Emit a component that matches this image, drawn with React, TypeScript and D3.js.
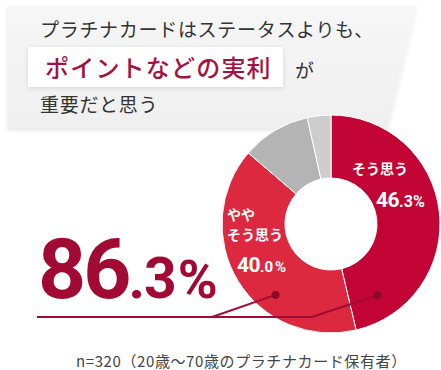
import { useEffect, useRef } from 'react'
import * as d3 from 'd3'

// answer shares (%), clockwise from 12 o'clock
const categories = ['そう思う', 'ややそう思う', 'あまり思わない', '思わない']
const shares = [46.3, 40.0, 10.2, 3.5]
const sliceColors = ['#c20535', '#dc2940', '#b4b4b4', '#cdcdcd']
const totalLabel = ['86', '.3', '%']
const titleLines = ['プラチナカードはステータスよりも、', 'ポイントなどの実利', 'が', '重要だと思う']
const footnote = 'n=320（20歳〜70歳のプラチナカード保有者）'

const W = 441
const H = 370
const JP = '"Noto Sans CJK JP", "Noto Sans", sans-serif'
const NUM = 'Roboto, "DejaVu Sans", sans-serif'
const DARK = '#a10a32'

export default function App() {
  const svgRef = useRef<SVGSVGElement>(null)

  useEffect(() => {
    const svg = d3.select(svgRef.current)
    svg.selectAll('*').remove()

    const defs = svg.append('defs')
    const shadow = defs.append('filter').attr('id', 'soft').attr('x', '-10%').attr('y', '-10%')
      .attr('width', '120%').attr('height', '130%')
    shadow.append('feDropShadow').attr('dx', 0).attr('dy', 1).attr('stdDeviation', 2)
      .attr('flood-color', '#000').attr('flood-opacity', 0.12)
    const grad = defs.append('linearGradient').attr('id', 'panel').attr('x1', 0).attr('y1', 0).attr('x2', 0).attr('y2', 1)
    grad.append('stop').attr('offset', '0%').attr('stop-color', '#f6f6f6')
    grad.append('stop').attr('offset', '100%').attr('stop-color', '#efefef')

    // title panel (slanted right edge)
    svg.append('path')
      .attr('d', 'M8,7 L416,7 L387,129 L8,129 Z')
      .attr('fill', 'url(#panel)')
      .attr('filter', 'url(#soft)')

    svg.append('text')
      .attr('x', 40).attr('y', 37)
      .attr('font-family', JP).attr('font-size', 19).attr('letter-spacing', 0.7).attr('fill', '#333')
      .text(titleLines[0])

    svg.append('rect')
      .attr('x', 28).attr('y', 47).attr('width', 255).attr('height', 40)
      .attr('fill', '#fff').attr('filter', 'url(#soft)')
    svg.append('text')
      .attr('x', 45).attr('y', 77)
      .attr('font-family', JP).attr('font-size', 24).attr('font-weight', 500)
      .attr('letter-spacing', 1.2).attr('fill', '#a4123f')
      .text(titleLines[1])
    svg.append('text')
      .attr('x', 295).attr('y', 78)
      .attr('font-family', JP).attr('font-size', 19).attr('fill', '#333')
      .text(titleLines[2])
    svg.append('text')
      .attr('x', 40).attr('y', 112)
      .attr('font-family', JP).attr('font-size', 19).attr('letter-spacing', 0.7).attr('fill', '#333')
      .text(titleLines[3])

    // donut
    const cx = 331
    const cy = 224
    const outer = 109
    const inner = 46
    const pie = d3.pie<number>().sort(null).value(d => d)
    const arc = d3.arc<d3.PieArcDatum<number>>().innerRadius(inner).outerRadius(outer)
    const g = svg.append('g').attr('transform', `translate(${cx},${cy})`)
    g.selectAll('path')
      .data(pie(shares))
      .join('path')
      .attr('d', arc)
      .attr('fill', (d, i) => sliceColors[i])
      .attr('stroke', '#fff')
      .attr('stroke-width', 1)

    // slice labels
    const white = (sel: any) => sel.attr('fill', '#fff')
    g.append('text').attr('x', 21).attr('y', -50)
      .attr('font-family', JP).attr('font-size', 14).attr('font-weight', 700)
      .call(white).text(categories[0])
    const p1 = g.append('text').attr('x', 45).attr('y', -17)
      .attr('font-family', NUM).attr('font-weight', 700).call(white)
    p1.append('tspan').attr('font-size', 21).attr('letter-spacing', -0.5).text('46')
    p1.append('tspan').attr('font-size', 16).text('.3%')

    g.append('text').attr('x', -104).attr('y', -4)
      .attr('font-family', JP).attr('font-size', 14).attr('font-weight', 700)
      .call(white).text('やや')
    g.append('text').attr('x', -104).attr('y', 16)
      .attr('font-family', JP).attr('font-size', 14).attr('font-weight', 700)
      .call(white).text('そう思う')
    const p2 = g.append('text').attr('x', -94).attr('y', 48)
      .attr('font-family', NUM).attr('font-weight', 700).call(white)
    p2.append('tspan').attr('font-size', 21).attr('letter-spacing', -0.5).text('40')
    p2.append('tspan').attr('font-size', 15).text('.0')
    p2.append('tspan').attr('font-size', 15).attr('dx', 2).text('%')

    // leader lines from the two red slices to the total
    const baseY = 317
    const polar = (r: number, deg: number) => {
      const a = (deg * Math.PI) / 180
      return [cx + r * Math.sin(a), cy - r * Math.cos(a)]
    }
    const d1 = polar(85, 147)
    const d2 = polar(90, 218)
    const line = d3.line()
    svg.append('path')
      .attr('d', line([[37, baseY], [312, baseY], d1 as [number, number]]))
      .attr('fill', 'none').attr('stroke', DARK).attr('stroke-width', 2)
    svg.append('path')
      .attr('d', line([[212, baseY], d2 as [number, number]]))
      .attr('fill', 'none').attr('stroke', DARK).attr('stroke-width', 2)
    svg.selectAll('circle.dot')
      .data([d1, d2])
      .join('circle')
      .attr('class', 'dot')
      .attr('cx', d => d[0]).attr('cy', d => d[1]).attr('r', 4)
      .attr('fill', '#8e0a2d')

    // total
    const tot = svg.append('text').attr('x', 38).attr('y', 298)
      .attr('font-family', NUM).attr('font-weight', 700).attr('fill', DARK)
    tot.append('tspan').attr('font-size', 84).attr('letter-spacing', -3).text(totalLabel[0])
    tot.append('tspan').attr('font-size', 57).attr('letter-spacing', -1).text(totalLabel[1])
    tot.append('tspan').attr('font-size', 54).attr('dx', 2).text(totalLabel[2])

    svg.append('text')
      .attr('x', 76).attr('y', 367)
      .attr('font-family', JP).attr('font-size', 15).attr('letter-spacing', 0.6).attr('fill', '#444')
      .text(footnote)
  }, [])

  return (
    <div style={{ position: 'absolute', left: 0, top: 0 }}>
      <svg ref={svgRef} width={W} height={H} style={{ display: 'block' }} />
    </div>
  )
}
